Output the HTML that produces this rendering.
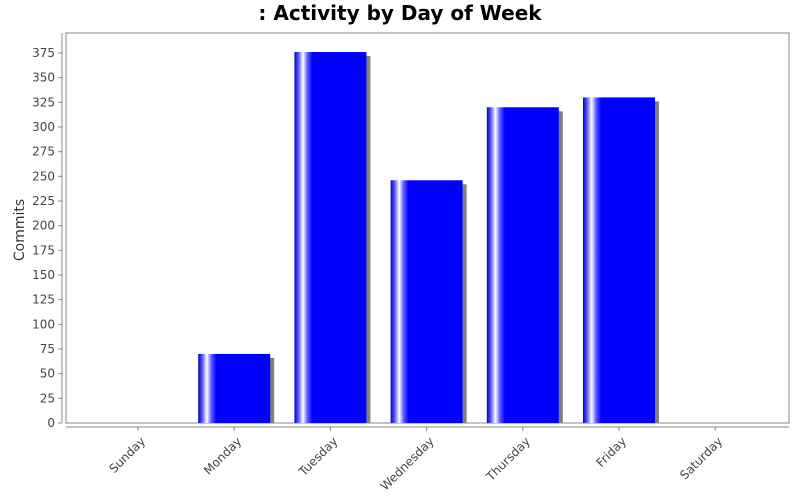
<!DOCTYPE html>
<html><head><meta charset="utf-8"><style>body{margin:0;background:#fff}svg{display:block;font-family:"DejaVu Sans","Liberation Sans",sans-serif}</style></head>
<body>
<svg id="chart" width="800" height="500" xmlns="http://www.w3.org/2000/svg">
<defs><linearGradient id="bg" x1="0" x2="1" y1="0" y2="0">
<stop offset="0" stop-color="#0000c0"/><stop offset="0.06" stop-color="#6060ff"/><stop offset="0.12" stop-color="#ffffff"/><stop offset="0.18" stop-color="#6060ff"/><stop offset="0.25" stop-color="#0000ff"/><stop offset="1" stop-color="#0000ff"/></linearGradient></defs>
<text x="400" y="20" text-anchor="middle" font-size="20" font-weight="bold" font-family="'DejaVu Sans',sans-serif">: Activity by Day of Week</text>
<rect x="66" y="33" width="723" height="390" fill="#fff" stroke="#888" stroke-width="1"/>
<g id="marks"></g>
<text transform="translate(24,230) rotate(-90)" text-anchor="middle" font-size="14" fill="#333">Commits</text>
</svg>
<script>
const categories=["Sunday","Monday","Tuesday","Wednesday","Thursday","Friday","Saturday"];
const values=[0,70,376,246,320,330,0];
const yTicks=[0,25,50,75,100,125,150,175,200,225,250,275,300,325,350,375];
const NS="http://www.w3.org/2000/svg";
const g=document.getElementById("marks");
const y=v=>423-v*(370/375);
const x=i=>138+i*96.2;
function el(t,a){const e=document.createElementNS(NS,t);for(const k in a)e.setAttribute(k,a[k]);g.appendChild(e);return e;}
const ya=el("line",{x1:62,y1:33,x2:62,y2:423,stroke:"#888"});


yTicks.forEach(t=>{
 const tk=el("line",{x1:58,x2:62,y1:y(t),y2:y(t),stroke:"#888"});
 
 
 const tx=el("text",{x:55,y:y(t)+4,"text-anchor":"end","font-size":12,fill:"#444"});
 tx.textContent=t;
 
 
});
const xa=el("line",{x1:66,y1:427,x2:789,y2:427,stroke:"#888"});


categories.forEach((c,i)=>{
 const cx=x(i);
 if(values[i]>0){
  const sh=el("rect",{x:cx-36+4,y:y(values[i])+4,width:72,height:423-y(values[i])-4,fill:"#808080"});
  
  
  const b=el("rect",{x:cx-36,y:y(values[i]),width:72,height:423-y(values[i]),fill:"url(#bg)"});
  
  
 }
 const tk=el("line",{x1:cx,x2:cx,y1:427,y2:431,stroke:"#888"});
 
 
 const tx=el("text",{transform:`translate(${cx+8},${442}) rotate(-45)`,"text-anchor":"end","font-size":12,fill:"#444"});
 tx.textContent=c;
 
 
});
</script>
</body></html>
